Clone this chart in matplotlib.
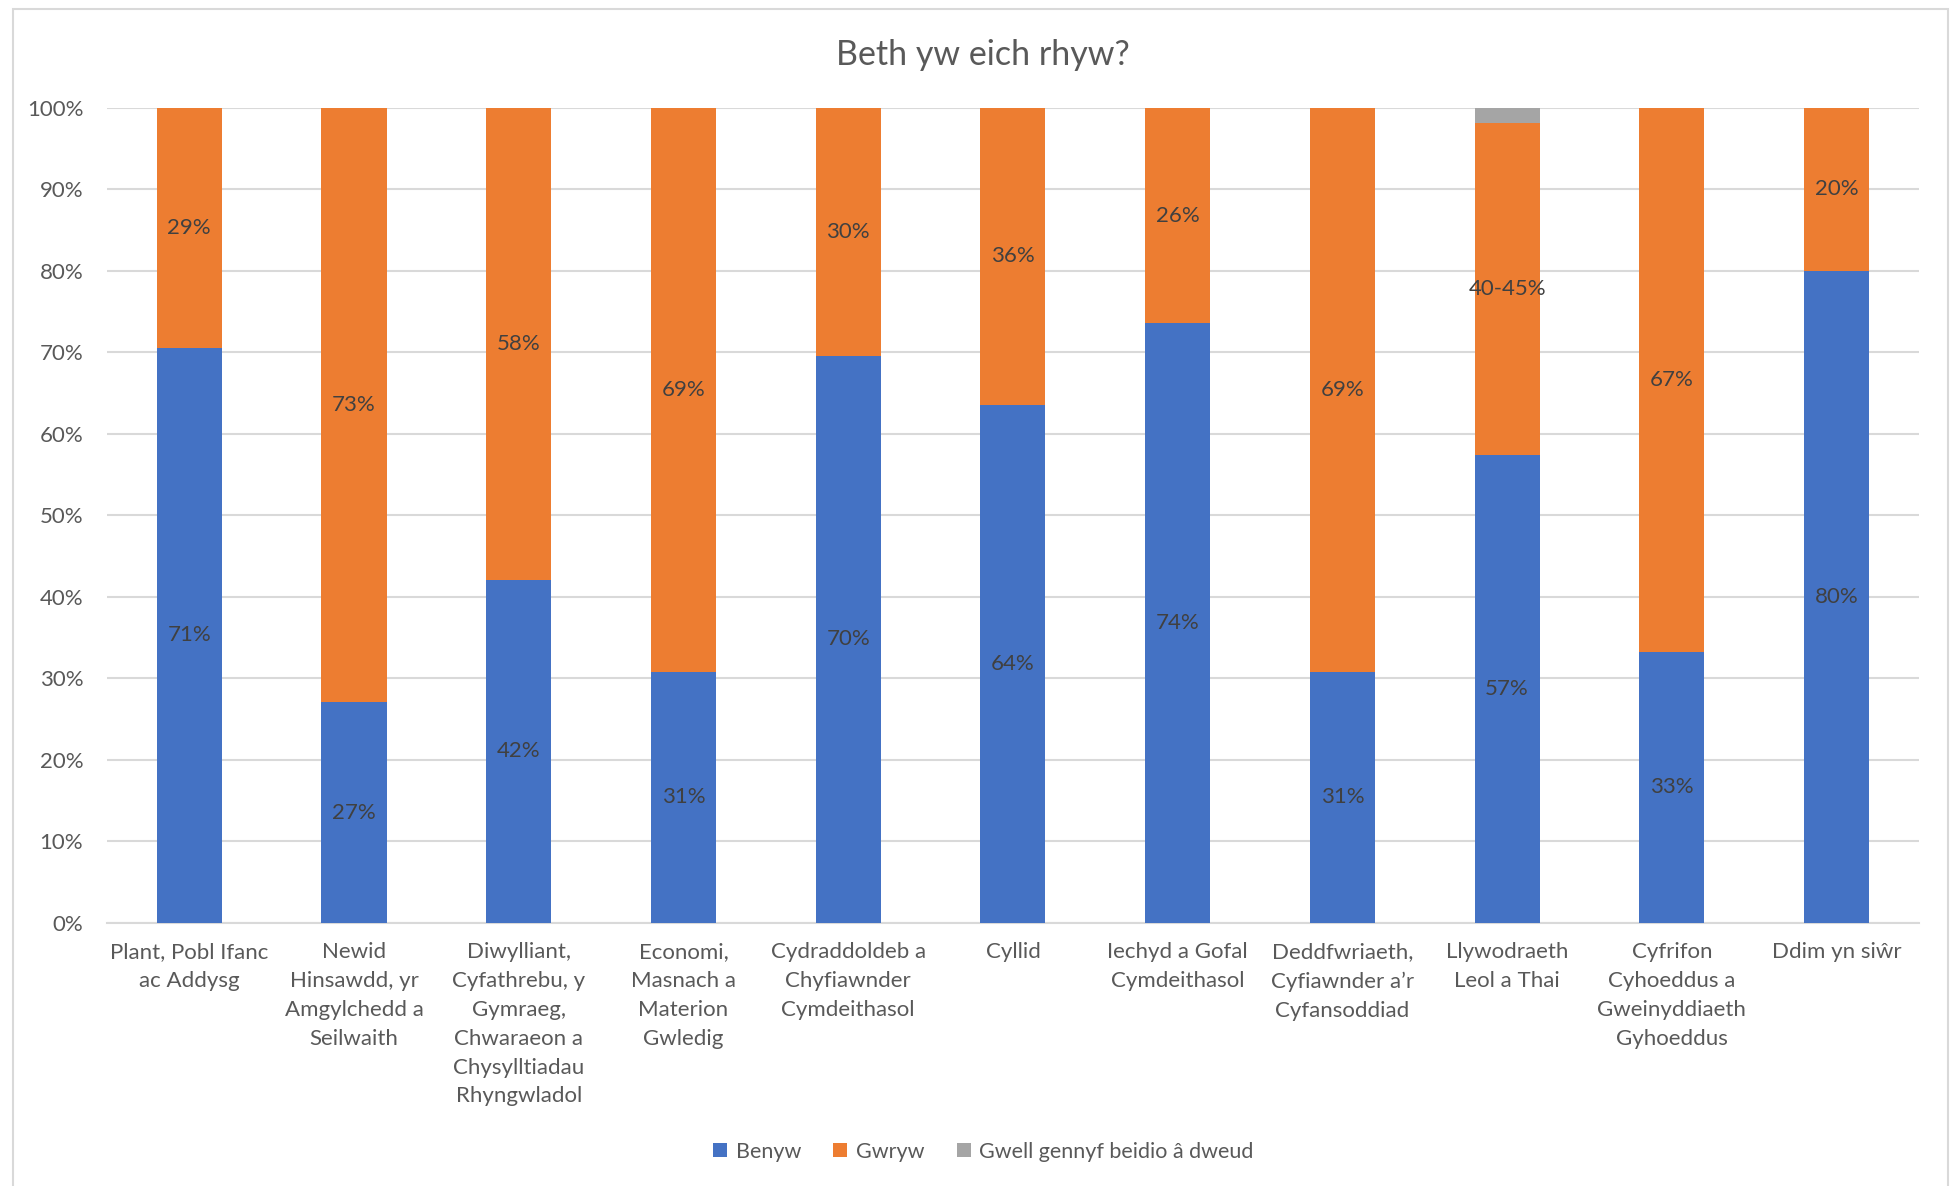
import numpy as np
import matplotlib.pyplot as plt
from matplotlib.patches import Rectangle
from matplotlib.ticker import PercentFormatter

plt.rcParams['font.family'] = ['Lato', 'DejaVu Sans']

categories = [
    "Plant, Pobl Ifanc\nac Addysg",
    "Newid\nHinsawdd, yr\nAmgylchedd a\nSeilwaith",
    "Diwylliant,\nCyfathrebu, y\nGymraeg,\nChwaraeon a\nChysylltiadau\nRhyngwladol",
    "Economi,\nMasnach a\nMaterion\nGwledig",
    "Cydraddoldeb a\nChyfiawnder\nCymdeithasol",
    "Cyllid",
    "Iechyd a Gofal\nCymdeithasol",
    "Deddfwriaeth,\nCyfiawnder a\u2019r\nCyfansoddiad",
    "Llywodraeth\nLeol a Thai",
    "Cyfrifon\nCyhoeddus a\nGweinyddiaeth\nGyhoeddus",
    "Ddim yn si\u0175r",
]

# share of respondents (%)
benyw = [70.6, 27.1, 42.1, 30.8, 69.6, 63.6, 73.6, 30.8, 57.4, 33.3, 80.0]
gwryw = [29.4, 72.9, 57.9, 69.2, 30.4, 36.4, 26.4, 69.2, 40.7, 66.7, 20.0]
gwell = [0, 0, 0, 0, 0, 0, 0, 0, 1.9, 0, 0]

benyw_labels = ["71%", "27%", "42%", "31%", "70%", "64%", "74%", "31%", "57%", "33%", "80%"]
gwryw_labels = ["29%", "73%", "58%", "69%", "30%", "36%", "26%", "69%", "40-45%", "67%", "20%"]

series_names = ["Benyw", "Gwryw", "Gwell gennyf beidio \u00e2 dweud"]
colors = ["#4472C4", "#ED7D31", "#A5A5A5"]

fig = plt.figure(figsize=(19.51, 11.86), dpi=100)
ax = fig.add_axes([0.0548, 0.2218, 0.9288, 0.6872])

x = np.arange(len(categories))
b = np.array(benyw)
g = np.array(gwryw)
n = np.array(gwell)
w = 0.395

ax.bar(x, b, w, color=colors[0], label=series_names[0], zorder=3)
ax.bar(x, g, w, bottom=b, color=colors[1], label=series_names[1], zorder=3)
ax.bar(x, n, w, bottom=b + g, color=colors[2], label=series_names[2], zorder=3)

lab_kw = dict(ha="center", va="center", fontsize=16, color="#404040", zorder=4)
for i in range(len(x)):
    ax.text(x[i], b[i] / 2, benyw_labels[i], **lab_kw)
    ax.text(x[i], b[i] + g[i] / 2, gwryw_labels[i], **lab_kw)

ax.set_xlim(-0.5, len(categories) - 0.5)
ax.set_ylim(0, 100)
ax.set_yticks(np.arange(0, 101, 10))
ax.yaxis.set_major_formatter(PercentFormatter(decimals=0))
ax.set_xticks(x)
ax.set_xticklabels(categories, fontsize=16, color="#595959", linespacing=1.55)
ax.tick_params(axis="y", labelsize=16, labelcolor="#595959", length=0, pad=17)
ax.tick_params(axis="x", length=0, pad=14)

ax.grid(axis="y", color="#D9D9D9", linewidth=1.5, zorder=0)
for side in ["top", "right", "left"]:
    ax.spines[side].set_visible(False)
ax.spines["bottom"].set_color("#D9D9D9")
ax.spines["bottom"].set_linewidth(1.5)

fig.text(0.504, 0.954, "Beth yw eich rhyw?", ha="center", va="center",
         fontsize=24.5, color="#595959")

fig.legend(loc="center", bbox_to_anchor=(0.504, 0.029), ncol=3, frameon=False,
           fontsize=15.5, labelcolor="#595959", handlelength=0.65, handleheight=0.65,
           handletextpad=0.4, columnspacing=1.5)

# chart outer border
fig.patches.append(Rectangle((13 / 1951, -0.01), 1935 / 1951, 1 - 9 / 1186 + 0.01,
                             transform=fig.transFigure, fill=False,
                             edgecolor="#D9D9D9", linewidth=1.5))

fig.savefig("out.png", dpi=100)
